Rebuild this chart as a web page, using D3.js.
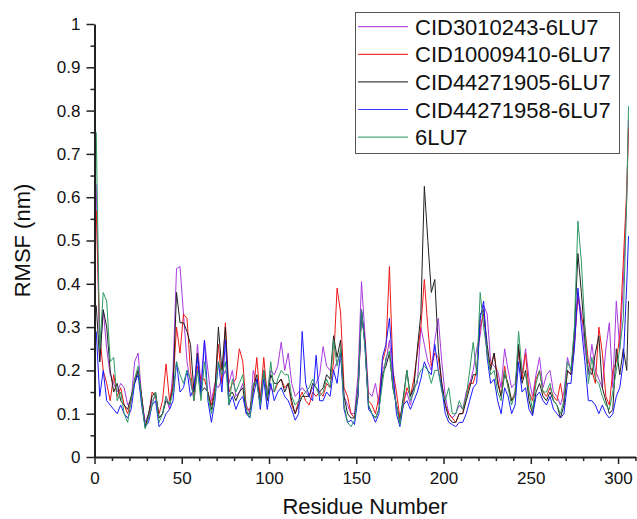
<!DOCTYPE html>
<html>
<head>
<meta charset="utf-8">
<script src="https://cdn.jsdelivr.net/npm/d3@7"></script>
<style>
  body { margin: 0; background: #fff; }
  text { font-family: "Liberation Sans", Arial, sans-serif; }
</style>
</head>
<body>
<div id="chart-area"></div>
<script>
// residue numbers sampled along the chain
const residues = [1,3,5,7,9,11,13,15,17,19,21,23,25,27,29,31,33,35,37,39,41,43,45,47,49,51,53,55,57,59,
  61,63,65,67,69,71,73,75,77,79,81,83,85,87,89,91,93,95,97,99,101,103,105,107,109,111,113,115,117,119,
  121,123,125,127,129,131,133,135,137,139,141,143,145,147,149,151,153,155,157,159,161,163,165,167,169,
  171,173,175,177,179,181,183,185,187,189,191,193,195,197,199,201,203,205,207,209,211,213,215,217,219,
  221,223,225,227,229,231,233,235,237,239,241,243,245,247,249,251,253,255,257,259,261,263,265,267,269,
  271,273,275,277,279,281,283,285,287,289,291,293,295,297,299,301,303,305,306];

const cid3010243 = [0.63,0.22,0.34,0.25,0.19, 0.17,0.15,0.17,0.16,0.12, 0.13,0.22,0.24,0.14,0.08,
  0.10,0.13,0.14,0.09,0.10, 0.14,0.11,0.20,0.435,0.44, 0.33,0.22,0.17,0.14,0.26, 0.17,0.27,0.20,0.13,0.17,
  0.16,0.18,0.20,0.17,0.20, 0.14,0.15,0.17,0.12,0.10, 0.20,0.17,0.14,0.20,0.15, 0.20,0.19,0.21,0.265,0.20,
  0.24,0.17,0.14,0.15,0.16, 0.15,0.14,0.16,0.17,0.19, 0.255,0.21,0.20,0.20,0.22, 0.24,0.14,0.12,0.10,0.10,
  0.19,0.405,0.28,0.15,0.14, 0.17,0.12,0.20,0.22,0.27, 0.18,0.12,0.09,0.13,0.15, 0.12,0.16,0.17,0.30,0.26,
  0.22,0.20,0.27,0.32,0.22, 0.14,0.10,0.09,0.10,0.12, 0.11,0.15,0.17,0.20,0.25, 0.28,0.35,0.33,0.22,0.21,
  0.20,0.16,0.25,0.20,0.16, 0.17,0.24,0.19,0.25,0.18, 0.14,0.19,0.23,0.16,0.19, 0.20,0.15,0.14,0.12,0.15,
  0.23,0.20,0.27,0.38,0.33, 0.25,0.19,0.26,0.20,0.18, 0.16,0.25,0.31,0.16,0.36, 0.25,0.40,0.60,0.78];

const cid10009410 = [0.57,0.28,0.20,0.17,0.13, 0.19,0.14,0.16,0.12,0.10, 0.13,0.18,0.20,0.14,0.07,
  0.09,0.15,0.14,0.10,0.13, 0.215,0.13,0.17,0.30,0.24, 0.33,0.32,0.20,0.13,0.21, 0.18,0.18,0.15,0.12,0.16,
  0.26,0.17,0.31,0.15,0.17, 0.18,0.25,0.22,0.11,0.11, 0.15,0.23,0.13,0.23,0.14, 0.16,0.15,0.17,0.18,0.16,
  0.17,0.12,0.10,0.13,0.15, 0.13,0.12,0.15,0.14,0.15, 0.14,0.17,0.16,0.22,0.39, 0.335,0.16,0.14,0.10,0.09,
  0.14,0.33,0.27,0.13,0.12, 0.10,0.14,0.22,0.25,0.44, 0.20,0.15,0.09,0.12,0.16, 0.14,0.18,0.24,0.30,0.41,
  0.30,0.21,0.24,0.23,0.17, 0.12,0.10,0.09,0.08,0.10, 0.10,0.14,0.17,0.17,0.20, 0.30,0.33,0.24,0.21,0.24,
  0.18,0.14,0.21,0.16,0.13, 0.15,0.25,0.18,0.24,0.15, 0.13,0.18,0.20,0.15,0.14, 0.16,0.14,0.13,0.17,0.12,
  0.20,0.19,0.26,0.37,0.32, 0.30,0.22,0.20,0.17,0.30, 0.24,0.14,0.12,0.20,0.22, 0.28,0.45,0.62,0.76];

const cid44271905 = [0.35,0.22,0.34,0.30,0.20, 0.15,0.17,0.13,0.12,0.11, 0.14,0.17,0.20,0.14,0.07,
  0.10,0.14,0.15,0.09,0.10, 0.13,0.12,0.16,0.38,0.31, 0.31,0.29,0.26,0.15,0.24, 0.15,0.16,0.15,0.11,0.15,
  0.30,0.20,0.30,0.14,0.15, 0.13,0.15,0.16,0.10,0.10, 0.16,0.19,0.12,0.20,0.13, 0.19,0.17,0.17,0.18,0.15,
  0.17,0.13,0.10,0.12,0.14, 0.14,0.14,0.17,0.16,0.15, 0.16,0.19,0.18,0.28,0.23, 0.27,0.14,0.10,0.09,0.09,
  0.16,0.34,0.26,0.12,0.10, 0.09,0.11,0.19,0.21,0.24, 0.16,0.12,0.08,0.14,0.20, 0.14,0.16,0.25,0.33,0.625,
  0.50,0.38,0.41,0.25,0.17, 0.12,0.09,0.08,0.08,0.10, 0.10,0.13,0.16,0.19,0.19, 0.33,0.34,0.26,0.20,0.24,
  0.17,0.14,0.19,0.17,0.13, 0.14,0.26,0.17,0.20,0.13, 0.10,0.15,0.17,0.14,0.13, 0.15,0.13,0.12,0.09,0.12,
  0.20,0.19,0.29,0.47,0.38, 0.27,0.20,0.19,0.24,0.28, 0.16,0.13,0.10,0.11,0.25, 0.19,0.25,0.20,0.36];

const cid44271958 = [0.29,0.14,0.20,0.13,0.12, 0.11,0.10,0.12,0.10,0.09, 0.11,0.17,0.19,0.12,0.07,
  0.08,0.12,0.13,0.07,0.08, 0.10,0.11,0.13,0.22,0.15, 0.16,0.20,0.14,0.16,0.23, 0.14,0.27,0.13,0.08,0.13,
  0.22,0.15,0.27,0.12,0.14, 0.11,0.13,0.14,0.10,0.09, 0.14,0.18,0.11,0.18,0.11, 0.17,0.13,0.15,0.16,0.14,
  0.13,0.11,0.085,0.10,0.29, 0.17,0.14,0.13,0.235,0.13, 0.13,0.15,0.14,0.20,0.17, 0.24,0.11,0.08,0.085,0.075,
  0.14,0.34,0.26,0.11,0.10, 0.08,0.10,0.23,0.26,0.32, 0.20,0.10,0.07,0.12,0.13, 0.11,0.13,0.15,0.18,0.22,
  0.20,0.19,0.26,0.20,0.16, 0.10,0.08,0.075,0.07,0.08, 0.08,0.10,0.13,0.16,0.17, 0.32,0.36,0.23,0.17,0.18,
  0.13,0.10,0.16,0.14,0.10, 0.12,0.22,0.15,0.16,0.11, 0.095,0.14,0.15,0.13,0.12, 0.14,0.11,0.10,0.09,0.10,
  0.17,0.17,0.25,0.39,0.30, 0.22,0.13,0.13,0.12,0.10, 0.12,0.10,0.09,0.10,0.14, 0.16,0.22,0.40,0.51];

const apo6lu7 = [0.75,0.25,0.38,0.36,0.22, 0.23,0.13,0.15,0.10,0.08, 0.13,0.18,0.21,0.13,0.065,
  0.09,0.12,0.15,0.08,0.10, 0.14,0.12,0.15,0.22,0.19, 0.17,0.20,0.18,0.13,0.20, 0.13,0.22,0.14,0.10,0.14,
  0.22,0.19,0.22,0.12,0.18, 0.15,0.17,0.19,0.11,0.09, 0.17,0.17,0.12,0.20,0.14, 0.22,0.15,0.18,0.20,0.19,
  0.19,0.14,0.12,0.13,0.14, 0.15,0.16,0.18,0.16,0.14, 0.15,0.18,0.16,0.27,0.21, 0.25,0.12,0.08,0.07,0.085,
  0.15,0.34,0.25,0.12,0.10, 0.09,0.11,0.17,0.23,0.245, 0.16,0.12,0.075,0.13,0.20, 0.13,0.15,0.18,0.20,0.21,
  0.20,0.17,0.20,0.20,0.15, 0.13,0.16,0.10,0.10,0.13, 0.11,0.14,0.20,0.265,0.19, 0.38,0.30,0.24,0.19,0.20,
  0.15,0.13,0.20,0.16,0.12, 0.15,0.29,0.20,0.19,0.15, 0.11,0.17,0.20,0.15,0.15, 0.17,0.13,0.12,0.10,0.13,
  0.22,0.20,0.30,0.545,0.45, 0.30,0.17,0.23,0.18,0.17, 0.14,0.12,0.11,0.15,0.20, 0.25,0.32,0.60,0.81];

const seriesNames = ["CID3010243-6LU7", "CID10009410-6LU7", "CID44271905-6LU7", "CID44271958-6LU7", "6LU7"];
const seriesColors = ["#a93ae0", "#f01818", "#202020", "#1a1aff", "#2e9a64"];
const seriesValues = [cid3010243, cid10009410, cid44271905, cid44271958, apo6lu7];

const yTicks = [0, 0.1, 0.2, 0.3, 0.4, 0.5, 0.6, 0.7, 0.8, 0.9, 1];
const xTicks = [0, 50, 100, 150, 200, 250, 300];

const width = 637, height = 519;
const plotLeft = 94.5, plotRight = 635.5, plotTop = 24, plotBottom = 457;

const svg = d3.select("#chart-area").append("svg")
  .attr("width", width)
  .attr("height", height)
  .style("display", "block");

svg.append("rect").attr("width", width).attr("height", height).attr("fill", "#fff");

const x = d3.scaleLinear().domain([0, 310]).range([plotLeft, plotRight]);
const y = d3.scaleLinear().domain([0, 1]).range([plotBottom, plotTop]);

// data lines
const line = d3.line()
  .x((d, i) => x(residues[i]))
  .y(d => y(d));

seriesValues.forEach((vals, k) => {
  svg.append("path")
    .datum(vals)
    .attr("fill", "none")
    .attr("stroke", seriesColors[k])
    .attr("stroke-width", 1)
    .attr("stroke-linejoin", "round")
    .attr("d", line);
});

// minor ticks
svg.append("g")
  .attr("transform", `translate(${plotLeft},0)`)
  .call(d3.axisLeft(y).tickValues(d3.range(0.05, 1, 0.1)).tickSize(4).tickFormat(""))
  .call(g => g.select(".domain").remove())
  .selectAll("line").attr("stroke", "#222").attr("stroke-width", 1.5);

svg.append("g")
  .attr("transform", `translate(0,${plotBottom})`)
  .call(d3.axisBottom(x).tickValues(d3.range(10, 311, 10).filter(v => v % 50 !== 0)).tickSize(4).tickFormat(""))
  .call(g => g.select(".domain").remove())
  .selectAll("line").attr("stroke", "#222").attr("stroke-width", 1.5);

// major axes
const yAxis = svg.append("g")
  .attr("transform", `translate(${plotLeft},0)`)
  .call(d3.axisLeft(y).tickValues(yTicks).tickSize(8).tickSizeOuter(0).tickPadding(6).tickFormat(d3.format("~g")));
yAxis.select(".domain").attr("stroke", "#222").attr("stroke-width", 2);
yAxis.selectAll(".tick line").attr("stroke", "#222").attr("stroke-width", 1.5);
yAxis.selectAll("text").attr("fill", "#111").style("font-size", "17px");

const xAxis = svg.append("g")
  .attr("transform", `translate(0,${plotBottom})`)
  .call(d3.axisBottom(x).tickValues(xTicks).tickSize(7).tickSizeOuter(0).tickPadding(8));
xAxis.select(".domain").attr("stroke", "#222").attr("stroke-width", 2);
xAxis.selectAll(".tick line").attr("stroke", "#222").attr("stroke-width", 1.5);
xAxis.selectAll("text").attr("fill", "#111").style("font-size", "17px");

// axis titles
svg.append("text")
  .attr("transform", `translate(30,${(plotTop + plotBottom) / 2}) rotate(-90)`)
  .attr("text-anchor", "middle")
  .attr("fill", "#111")
  .style("font-size", "22px")
  .text("RMSF (nm)");

svg.append("text")
  .attr("x", (plotLeft + plotRight) / 2)
  .attr("y", 514)
  .attr("text-anchor", "middle")
  .attr("fill", "#111")
  .style("font-size", "22px")
  .text("Residue Number");

// legend
const legend = svg.append("g");
legend.append("rect")
  .attr("x", 355.5).attr("y", 12.5)
  .attr("width", 264).attr("height", 141)
  .attr("fill", "#fff")
  .attr("stroke", "#555")
  .attr("stroke-width", 1);

seriesNames.forEach((name, k) => {
  const cy = 26.7 + k * 27.6;
  legend.append("line")
    .attr("x1", 358).attr("x2", 408)
    .attr("y1", cy).attr("y2", cy)
    .attr("stroke", seriesColors[k])
    .attr("stroke-opacity", 0.85)
    .attr("stroke-width", 1.2);
  legend.append("text")
    .attr("x", 415)
    .attr("y", cy + 8)
    .attr("fill", "#111")
    .style("font-size", "22px")
    .text(name);
});
</script>
</body>
</html>
